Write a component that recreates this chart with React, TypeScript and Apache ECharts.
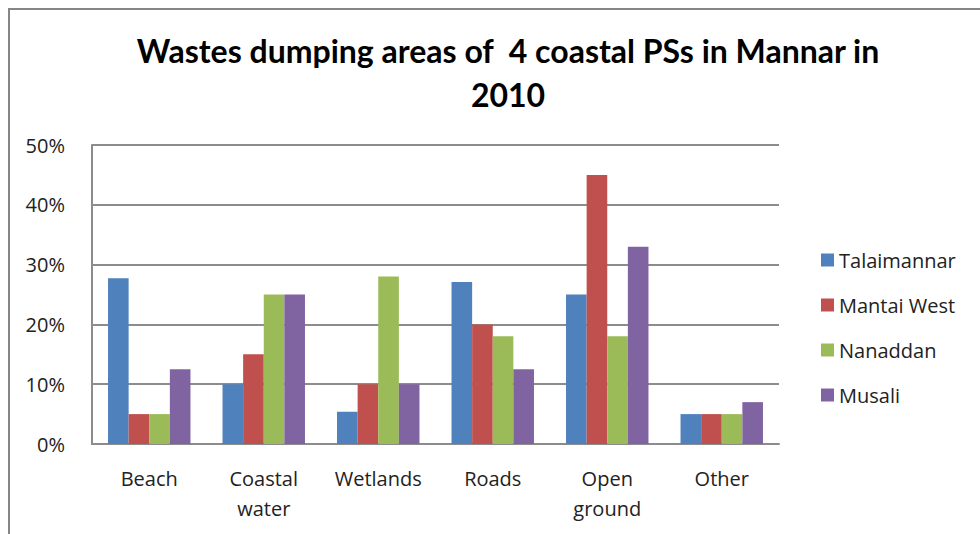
import React, { useEffect, useRef } from "react";
import * as echarts from "echarts";

const categories = ["Beach", "Coastal\nwater", "Wetlands", "Roads", "Open\nground", "Other"];
const talaimannar = [27.7, 10, 5.4, 27.1, 25, 5];
const mantaiWest = [5, 15, 10, 20, 45, 5];
const nanaddan = [5, 25, 28, 18, 18, 5];
const musali = [12.5, 25, 10, 12.5, 33, 7];
const seriesNames = ["Talaimannar", "Mantai West", "Nanaddan", "Musali"];
const colors = ["#4F81BD", "#C0504D", "#9BBB59", "#8064A2"];
const titleText = "Wastes dumping areas of  4 coastal PSs in Mannar in\n2010";

export default function App() {
  const ref = useRef<HTMLDivElement>(null);
  useEffect(() => {
    document.body.style.margin = "0";
    if (!ref.current) return;
    const chart = echarts.init(ref.current, null, { renderer: "svg" });
    const font = "'Open Sans', sans-serif";
    const titleFont = "Lato, sans-serif";
    const data = [talaimannar, mantaiWest, nanaddan, musali];
    chart.setOption({
      animation: false,
      backgroundColor: "#ffffff",
      textStyle: { fontFamily: font },
      title: {
        text: titleText,
        left: 503,
        textAlign: "center",
        top: 23,
        textStyle: {
          fontFamily: titleFont,
          fontWeight: "bold",
          fontSize: 32,
          lineHeight: 44,
          color: "#000000",
        },
      },
      graphic: [
        {
          type: "rect",
          shape: { x: 9, y: 9, width: 1000, height: 1000 },
          style: { fill: "none", stroke: "#868686", lineWidth: 2 },
          silent: true,
        },
      ],
      legend: {
        orient: "vertical",
        left: 816,
        top: 245,
        itemWidth: 13,
        itemHeight: 13,
        itemGap: 25,
        icon: "rect",
        textStyle: { fontFamily: font, fontSize: 20, color: "#222222" },
        data: seriesNames,
      },
      grid: { left: 92, top: 145, right: 201, bottom: 90, containLabel: false },
      xAxis: {
        type: "category",
        data: categories,
        axisLine: { lineStyle: { color: "#8c8c8c", width: 2 } },
        axisTick: { show: false },
        axisLabel: {
          fontFamily: font,
          fontSize: 20,
          color: "#222222",
          lineHeight: 30,
          margin: 19,
          interval: 0,
        },
      },
      yAxis: {
        type: "value",
        min: 0,
        max: 50,
        interval: 10,
        axisLine: { show: true, lineStyle: { color: "#8c8c8c", width: 2 } },
        axisTick: { show: false },
        splitLine: { lineStyle: { color: "#8c8c8c", width: 2 } },
        axisLabel: {
          fontFamily: font,
          fontSize: 20,
          color: "#222222",
          margin: 27,
          formatter: "{value}%",
        },
      },
      series: seriesNames.map((name, i) => ({
        name,
        type: "bar",
        data: data[i],
        barGap: "0%",
        barCategoryGap: "28%",
        itemStyle: { color: colors[i] },
      })),
    });
    return () => chart.dispose();
  }, []);
  return <div ref={ref} style={{ width: 980, height: 534 }} />;
}
